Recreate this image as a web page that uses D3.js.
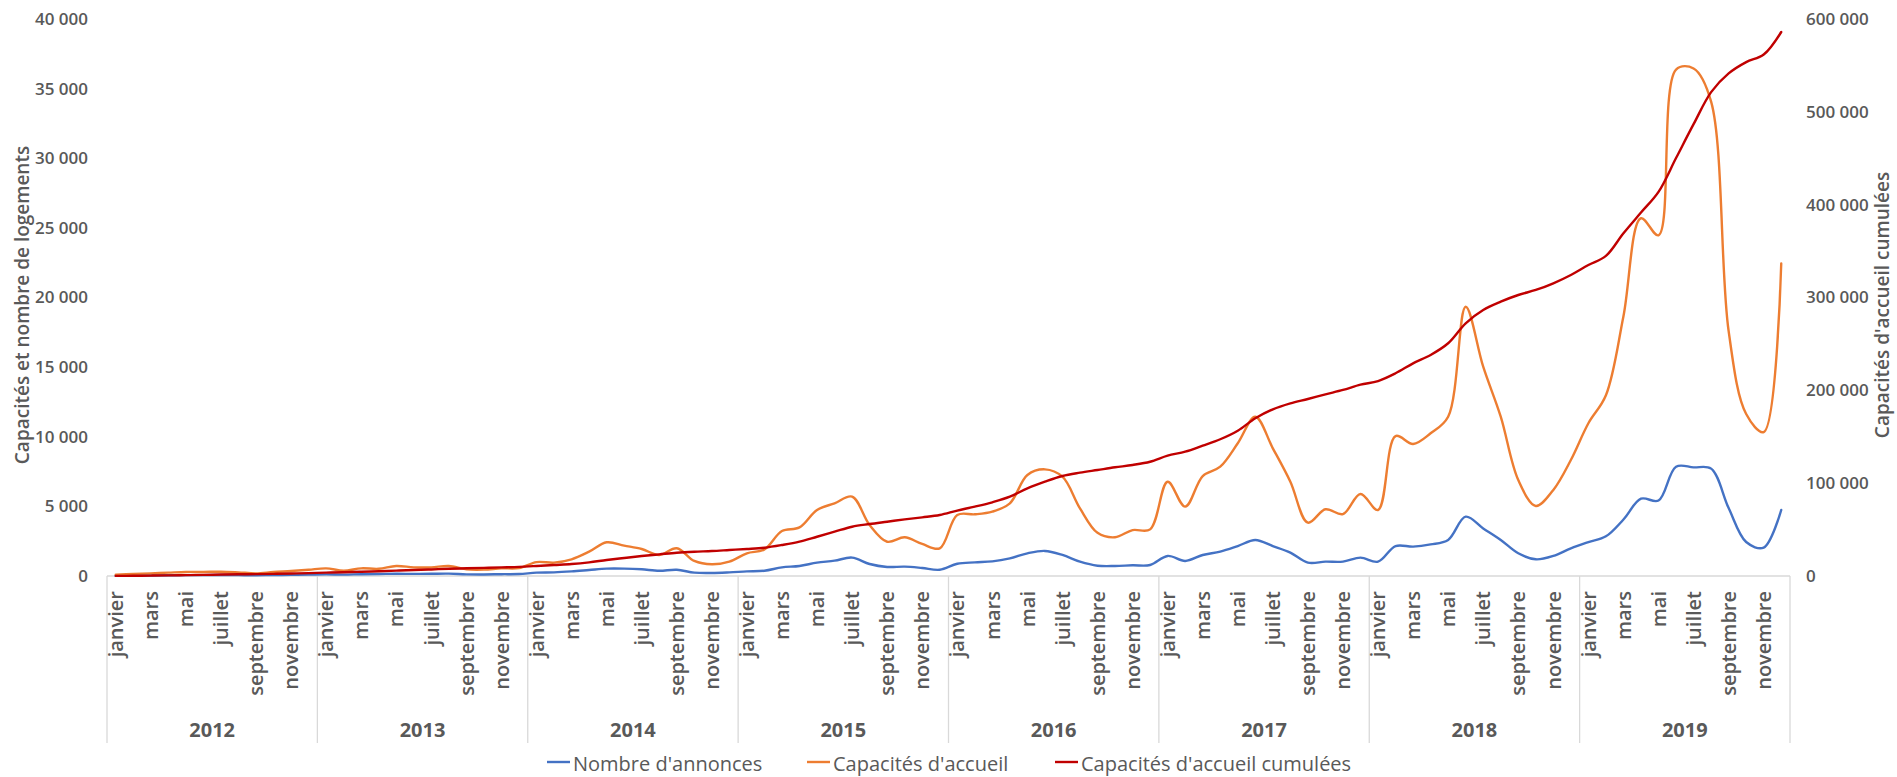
<!DOCTYPE html>
<html lang="fr">
<head>
<meta charset="utf-8">
<script src="https://cdn.jsdelivr.net/npm/d3@7"></script>
<style>
  html, body { margin: 0; padding: 0; background: #fff; }
  svg { display: block; }
</style>
</head>
<body>
<div id="chart"></div>
<script>
const years = ['2012', '2013', '2014', '2015', '2016', '2017', '2018', '2019'];
const monthNames = ['janvier', 'février', 'mars', 'avril', 'mai', 'juin', 'juillet', 'août',
  'septembre', 'octobre', 'novembre', 'décembre'];
const leftTicks = [0, 5000, 10000, 15000, 20000, 25000, 30000, 35000, 40000];
const rightTicks = [0, 100000, 200000, 300000, 400000, 500000, 600000];

// Nombre d'annonces, un an par ligne
const annonces = [
  20, 30, 40, 50, 60, 60, 70, 60, 50, 70, 80, 100,
  120, 100, 130, 140, 160, 150, 160, 170, 120, 110, 130, 140,
  240, 260, 330, 430, 530, 530, 480, 380, 450, 240, 215, 260,
  330, 380, 620, 720, 960, 1100, 1320, 860, 650, 670, 575, 450,
  880, 980, 1050, 1270, 1630, 1800, 1510, 1030, 740, 720, 770, 790,
  1440, 1080, 1510, 1750, 2150, 2590, 2150, 1680, 960, 1030, 1030, 1320,
  1030, 2150, 2110, 2270, 2590, 4260, 3420, 2590, 1630, 1200, 1440, 1990,
  2440, 2850, 4060, 5550, 5420, 7850, 7800, 7710, 4880, 2440, 2040, 4740
];
// Capacités d'accueil
const capacites = [
  100, 150, 190, 240, 290, 290, 310, 260, 190, 290, 360, 450,
  550, 380, 550, 520, 720, 620, 620, 720, 480, 460, 550, 570,
  1000, 960, 1200, 1750, 2420, 2180, 1940, 1510, 1990, 1080, 840, 1030,
  1630, 1910, 3230, 3490, 4740, 5220, 5700, 3660, 2460, 2780, 2300, 1990,
  4380, 4430, 4620, 5220, 7250, 7660, 7130, 4860, 3100, 2780, 3300, 3350,
  6770, 4980, 7180, 7850, 9530, 11440, 9170, 6770, 3830, 4790, 4450, 5890,
  4740, 10050, 9480, 10250, 11440, 19340, 15030, 11440, 6890, 5030, 6180, 8330,
  10970, 12980, 18660, 25690, 24470, 36370, 36450, 34070, 17580, 11630, 10340, 22440
];
// Capacités d'accueil cumulées (axe de droite)
const cumulees = [
  100, 250, 440, 680, 970, 1260, 1570, 1830, 2020, 2310, 2670, 3120,
  3670, 4050, 4600, 5120, 5840, 6460, 7080, 7800, 8280, 8740, 9290, 9860,
  10800, 11850, 12900, 14700, 17200, 19400, 21500, 23300, 25100, 26200, 26900, 28000,
  29100, 30500, 33400, 37000, 42300, 47700, 53100, 56000, 58500, 61000, 63200, 65700,
  70500, 74700, 79400, 85400, 94500, 101600, 107700, 111300, 114200, 117100, 119600, 123100,
  129600, 133900, 140400, 147300, 156500, 169900, 179600, 186000, 190700, 195700, 200400, 206100,
  210000, 218400, 229100, 238100, 250700, 272200, 286500, 295500, 302700, 308100, 315300, 324300,
  335000, 344800, 369200, 391500, 413800, 450200, 486700, 521200, 541400, 553600, 561700, 586000
];

const C = { blue: '#4472C4', orange: '#ED7D31', red: '#C00000', text: '#595959', grid: '#D9D9D9' };
const FONT = '"Open Sans", "Liberation Sans", sans-serif';

const W = 1897, H = 777, mL = 107, mR = 107, mT = 19, mB = 201;
const svg = d3.select('#chart').append('svg').attr('width', W).attr('height', H)
  .attr('viewBox', `0 0 ${W} ${H}`);

const months = d3.range(years.length * 12);
const x = d3.scaleBand().domain(months).range([mL, W - mR]).padding(0);
const xYear = d3.scaleBand().domain(years).range([mL, W - mR]).padding(0);
const y = d3.scaleLinear().domain([0, 40000]).range([H - mB, mT]);
const y2 = d3.scaleLinear().domain([0, 600000]).range([H - mB, mT]);
const cx = i => x(i) + x.bandwidth() / 2;

const loc = d3.formatLocale({ decimal: ',', thousands: '\u00a0', grouping: [3], currency: ['', ' €'] });
const fmt = loc.format(',d');

// axes verticaux, sans ligne ni graduation
const gL = svg.append('g').attr('transform', `translate(${mL},0)`)
  .call(d3.axisLeft(y).tickValues(leftTicks).tickSize(0).tickPadding(19).tickFormat(fmt));
const gR = svg.append('g').attr('transform', `translate(${W - mR},0)`)
  .call(d3.axisRight(y2).tickValues(rightTicks).tickSize(0).tickPadding(16).tickFormat(fmt));
[gL, gR].forEach(g => {
  g.select('.domain').remove();
  g.selectAll('text').attr('font-family', FONT).attr('font-size', 17).attr('font-weight', 600).attr('fill', C.text);
});

// axe des catégories
const base = H - mB;
svg.append('line').attr('x1', mL).attr('x2', W - mR).attr('y1', base).attr('y2', base)
  .attr('stroke', C.grid).attr('stroke-width', 1.3);
const sepX = years.map(yr => xYear(yr)).concat([W - mR]);
sepX.forEach(sx => {
  svg.append('line').attr('x1', sx).attr('x2', sx).attr('y1', base).attr('y2', 743)
    .attr('stroke', C.grid).attr('stroke-width', 1.3);
});
months.filter(i => i % 2 === 0).forEach(i => {
  svg.append('text').attr('transform', `translate(${cx(i)},${base + 15}) rotate(-90)`)
    .attr('text-anchor', 'end').attr('dy', '0.36em')
    .attr('font-family', FONT).attr('font-size', 20).attr('font-weight', 600).attr('fill', C.text)
    .text(monthNames[i % 12]);
});
years.forEach(yr => {
  svg.append('text').attr('x', xYear(yr) + xYear.bandwidth() / 2).attr('y', 737)
    .attr('text-anchor', 'middle')
    .attr('font-family', FONT).attr('font-size', 20).attr('font-weight', 700).attr('fill', C.text)
    .text(yr);
});

// titres des axes
svg.append('text').attr('transform', 'translate(22,305) rotate(-90)')
  .attr('text-anchor', 'middle').attr('dy', '0.35em')
  .attr('font-family', FONT).attr('font-size', 19).attr('font-weight', 600).attr('fill', C.text)
  .text('Capacités et nombre de logements');
svg.append('text').attr('transform', 'translate(1882,305) rotate(-90)')
  .attr('text-anchor', 'middle').attr('dy', '0.35em')
  .attr('font-family', FONT).attr('font-size', 19).attr('font-weight', 600).attr('fill', C.text)
  .text('Capacités d\'accueil cumulées');

// courbes lissées
const curve = d3.curveCatmullRom.alpha(0.5);
const series = [
  { name: 'Nombre d\'annonces', values: annonces, scale: y, color: C.blue },
  { name: 'Capacités d\'accueil', values: capacites, scale: y, color: C.orange },
  { name: 'Capacités d\'accueil cumulées', values: cumulees, scale: y2, color: C.red }
];
series.forEach(s => {
  const line = d3.line().x((d, i) => cx(i)).y(d => s.scale(d)).curve(curve);
  svg.append('path').datum(s.values).attr('d', line).attr('fill', 'none')
    .attr('stroke', s.color).attr('stroke-width', 2.4).attr('stroke-linejoin', 'round').attr('stroke-linecap', 'round');
});

// légende
const legendX = [547, 807, 1055];
series.forEach((s, i) => {
  const g = svg.append('g').attr('transform', `translate(${legendX[i]},765)`);
  g.append('line').attr('x1', 0).attr('x2', 23).attr('y1', -3).attr('y2', -3)
    .attr('stroke', s.color).attr('stroke-width', 2.4);
  g.append('text').attr('x', 26).attr('y', 0).attr('dy', '0.3em')
    .attr('font-family', FONT).attr('font-size', 20).attr('fill', C.text).text(s.name);
});
</script>
</body>
</html>
